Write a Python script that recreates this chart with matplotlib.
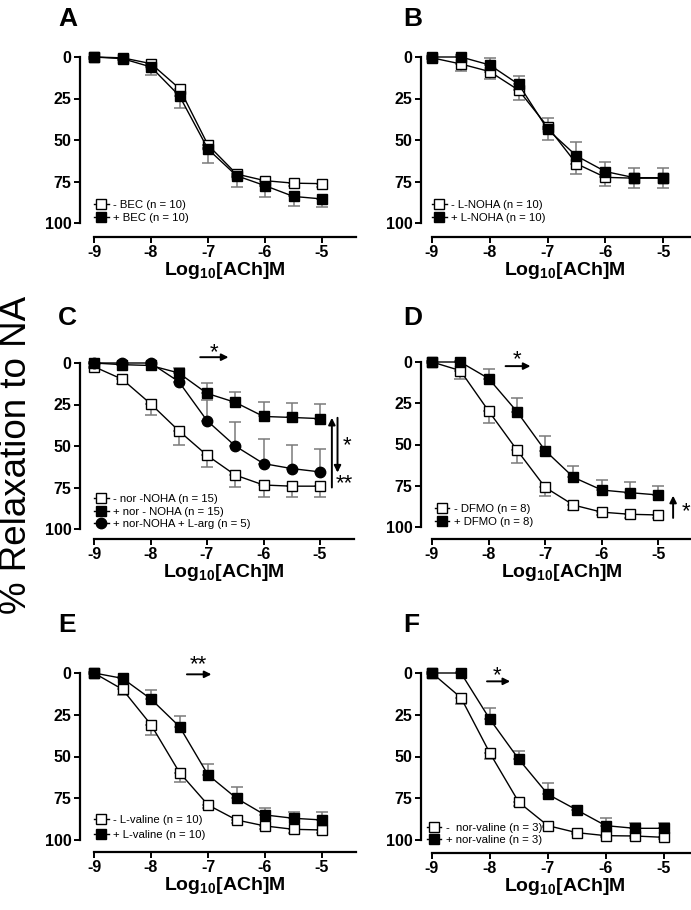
import matplotlib
matplotlib.use("Agg")
import matplotlib.pyplot as plt

plt.rcParams['font.family'] = ['Liberation Sans', 'DejaVu Sans']
plt.rcParams['mathtext.fontset'] = 'custom'
plt.rcParams['mathtext.rm'] = 'Liberation Sans:bold'
plt.rcParams['mathtext.bf'] = 'Liberation Sans:bold'

# log10 [ACh] doses
doses = [-9, -8.5, -8, -7.5, -7, -6.5, -6, -5.5, -5]
x_ticks = [-9, -8, -7, -6, -5]
y_ticks = [0, 25, 50, 75, 100]

# A: BEC
bec_minus = [0, 0.5, 4, 19, 53, 70.5, 74.5, 76, 76.3]
bec_minus_err = [1, 1, 1.5, 2, 2, 2, 2, 2, 2]
bec_plus = [0, 1, 6, 23.5, 55.5, 71.5, 77.5, 84, 85.5]
bec_plus_err = [0.5, 1, 5, 7.5, 8.5, 7, 7, 5.5, 5]

# B: L-NOHA
noha_minus = [0.5, 4.2, 8.8, 20, 42, 64.3, 72.5, 73, 73]
noha_minus_err = [1, 4, 4.7, 6, 8, 6.4, 5.5, 6, 6]
noha_plus = [0, 0, 4.8, 16.5, 43.6, 59.6, 69, 72.7, 72.7]
noha_plus_err = [0.5, 1, 4.4, 5.3, 7, 8.6, 6, 6, 6]

# C: nor-NOHA
nor_minus = [2.2, 9.8, 24.5, 40.8, 55.6, 67.5, 73.5, 74.2, 74.2]
nor_minus_err = [1, 3, 7, 8.6, 7, 7, 7, 6.6, 6.6]
nor_plus = [0, 1, 1.5, 6, 18.3, 23.7, 32.2, 32.8, 33.5]
nor_plus_err = [0.5, 1, 1.5, 3, 6.5, 6.4, 8.7, 8.6, 9]
nor_larg = [0, 0, 0, 11.2, 34.7, 50, 60.6, 63.6, 65.6]
nor_larg_err = [0.5, 0.5, 0.5, 2, 12.4, 14.3, 14.6, 14, 14]

# D: DFMO
dfmo_minus = [0, 5.2, 29.7, 53.3, 76, 86.7, 91, 92.3, 92.7]
dfmo_minus_err = [0.5, 5, 7, 8, 5, 3, 2, 2, 2]
dfmo_plus = [0, 0, 10, 30, 53.7, 69.9, 77.6, 79.2, 80.6]
dfmo_plus_err = [0.5, 0.5, 6, 8, 9, 6.7, 6.3, 6.2, 5.6]

# E: L-valine
val_minus = [0, 9.8, 31, 59.6, 79, 88, 91.6, 93.6, 94]
val_minus_err = [0.5, 3.4, 6, 5.4, 2, 2, 2, 2, 2]
val_plus = [0, 3.2, 15.6, 32.1, 61, 75, 85, 87, 88]
val_plus_err = [0.5, 1, 5.4, 6.4, 6.5, 7, 4, 4, 5]

# F: nor-valine
norval_minus = [0, 14.8, 48, 77.4, 91.4, 95.6, 97.4, 97.6, 98.4]
norval_minus_err = [0.5, 4, 3.5, 2, 1, 1, 1, 1, 1]
norval_plus = [0, 0, 27.7, 51.7, 72.6, 82, 91.4, 93, 93]
norval_plus_err = [0.5, 0.5, 6.7, 4.7, 7, 2.5, 4.4, 3, 3]

W, H = 691, 910
fig = plt.figure(figsize=(W / 100, H / 100), dpi=100)


def make_axes(x0, dec, y0, y100, yout, xout):
    # pixel layout -> figure fraction
    rect = [x0 / W, 1 - y100 / H, 4.6 * dec / W, (y100 - y0) / H]
    ax = fig.add_axes(rect)
    ax.set_xlim(-9, -4.4)
    ax.set_ylim(100, 0)
    for s in ['top', 'right']:
        ax.spines[s].set_visible(False)
    ax.spines['left'].set_position(('outward', yout * 0.72))
    ax.spines['bottom'].set_position(('outward', xout * 0.72))
    ax.spines['left'].set_linewidth(1.6)
    ax.spines['bottom'].set_linewidth(1.6)
    ax.set_xticks(x_ticks)
    ax.set_yticks(y_ticks)
    ax.set_xticklabels([str(t) for t in x_ticks])
    ax.tick_params(direction='out', length=4, width=1.4, labelsize=11.5, pad=2)
    for lab in ax.get_xticklabels() + ax.get_yticklabels():
        lab.set_fontweight('bold')
    ax.set_xlabel(r'Log$_\mathbf{10}$[ACh]M', fontsize=14, fontweight='bold', labelpad=0)
    ax.patch.set_visible(False)
    return ax


def curve(ax, y, err, up, marker, face, label):
    if up:
        yerr = [err, [0] * len(err)]
    else:
        yerr = [[0] * len(err), err]
    ax.errorbar(doses, y, yerr=yerr, fmt='none', ecolor='#7a7a7a', elinewidth=1.1,
                capsize=4, capthick=1.1, clip_on=False, zorder=2)
    ax.plot(doses, y, color='black', lw=1, marker=marker, ms=7 if marker == 's' else 7.5,
            mfc=face, mec='black', mew=1, clip_on=False, zorder=3, label=label)


def legend(ax, y_anchor, x_anchor=0.0, spacing=0.3):
    ax.legend(loc='lower left', bbox_to_anchor=(x_anchor, y_anchor), frameon=False,
              fontsize=8.2, handlelength=1.3, handletextpad=0.4, labelspacing=spacing,
              borderpad=0, borderaxespad=0)


def arrow(ax, x1, x2, y1, y2):
    ax.annotate('', xy=(x2, y2), xytext=(x1, y1), annotation_clip=False,
                arrowprops=dict(arrowstyle='-|>', color='black', lw=1.4,
                                mutation_scale=10, shrinkA=0, shrinkB=0))


def star(ax, x, y, s):
    ax.text(x, y, s, ha='center', va='center', fontsize=16, clip_on=False)


# A
axA = make_axes(94, 57, 57, 223, 14, 14)
curve(axA, bec_minus, bec_minus_err, False, 's', 'white', '- BEC (n = 10)')
curve(axA, bec_plus, bec_plus_err, False, 's', 'black', '+ BEC (n = 10)')
legend(axA, 0.0)

# B
axB = make_axes(432, 57.8, 57, 223, 11, 14)
curve(axB, noha_minus, noha_minus_err, False, 's', 'white', '- L-NOHA (n = 10)')
curve(axB, noha_plus, noha_plus_err, True, 's', 'black', '+ L-NOHA (n = 10)')
legend(axB, 0.0)

# C
axC = make_axes(94, 56.5, 363, 529, 14, 10)
curve(axC, nor_minus, nor_minus_err, False, 's', 'white', '- nor -NOHA (n = 15)')
curve(axC, nor_plus, nor_plus_err, True, 's', 'black', '+ nor - NOHA (n = 15)')
curve(axC, nor_larg, nor_larg_err, True, 'o', 'black', '+ nor-NOHA + L-arg (n = 5)')
legend(axC, 0.0, spacing=0.2)
arrow(axC, -7.12, -6.62, -3.5, -3.5)
star(axC, -6.88, -6.5, '*')
arrow(axC, -4.79, -4.79, 75, 33)
arrow(axC, -4.69, -4.69, 33, 66)
star(axC, -4.52, 50, '*')
star(axC, -4.57, 73, '**')

# D
axD = make_axes(432, 56.6, 362, 527, 11, 12)
curve(axD, dfmo_minus, dfmo_minus_err, False, 's', 'white', '- DFMO (n = 8)')
curve(axD, dfmo_plus, dfmo_plus_err, True, 's', 'black', '+ DFMO (n = 8)')
legend(axD, 0.0, x_anchor=0.01)
arrow(axD, -7.7, -7.26, 2.5, 2.5)
star(axD, -7.5, -1.5, '*')
arrow(axD, -4.74, -4.74, 94.5, 81)
star(axD, -4.52, 91, '*')

# E
axE = make_axes(94, 57, 673, 840, 14, 12)
curve(axE, val_minus, val_minus_err, False, 's', 'white', '- L-valine (n = 10)')
curve(axE, val_plus, val_plus_err, True, 's', 'black', '+ L-valine (n = 10)')
legend(axE, 0.0, spacing=0.4)
arrow(axE, -7.37, -6.94, 0.8, 0.8)
star(axE, -7.17, -5, '**')

# F
axF = make_axes(432, 57.9, 673, 840, 11, 13)
curve(axF, norval_minus, norval_minus_err, False, 's', 'white', '-  nor-valine (n = 3)')
curve(axF, norval_plus, norval_plus_err, True, 's', 'black', '+ nor-valine (n = 3)')
legend(axF, -0.03, x_anchor=-0.02, spacing=0.15)
arrow(axF, -8.05, -7.65, 5, 5)
star(axF, -7.88, 1.5, '*')

# panel letters
for lab, (px, py) in zip('ABCDEF', [(58, 19), (403, 19), (58, 318), (403, 318),
                                    (58, 625), (403, 625)]):
    fig.text(px / W, 1 - py / H, lab, fontsize=19, fontweight='bold', va='center', ha='left')

fig.text(17 / W, 1 - 455 / H, '% Relaxation to NA', rotation=90, fontsize=26.5,
         va='center', ha='center')

fig.savefig('out.png', dpi=100)
